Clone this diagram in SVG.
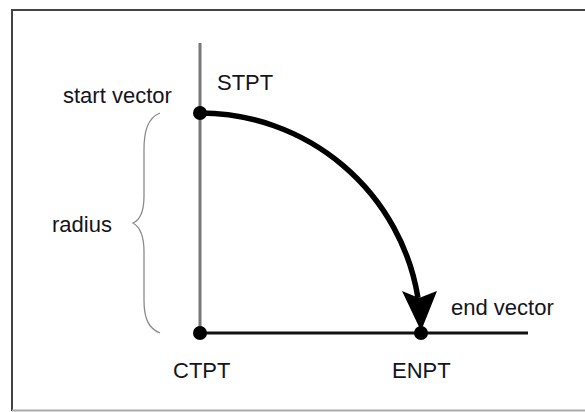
<svg xmlns="http://www.w3.org/2000/svg" width="585" height="412" viewBox="0 0 585 412">
<style>
text{font-family:"Liberation Sans",Arial,sans-serif;font-size:22px;fill:#141420}
.dot{fill:#000}
</style>
<rect width="585" height="412" fill="#fff"/>
<g id="frame">
<line x1="12" y1="10" x2="585" y2="10" stroke="#444" stroke-width="2"/>
<line x1="12" y1="9" x2="12" y2="411" stroke="#444" stroke-width="2"/>
<line x1="12" y1="410.5" x2="585" y2="410.5" stroke="#aaa" stroke-width="2"/>
</g>
<g id="connectors">
<line id="start-vector-line" x1="200" y1="43" x2="200" y2="333" stroke="#777" stroke-width="3"/>
<line id="end-vector-line" x1="200" y1="333" x2="528" y2="333" stroke="#111" stroke-width="3"/>
<path id="arc" d="M200,113 A221,220 0 0 1 418,298" fill="none" stroke="#000" stroke-width="5.5"/>
<polygon id="arrowhead" points="402,291 419,298 437,291 421,331" fill="#000"/>
<path id="brace" d="M160,113 C148,118 144,130 144,150 L144,196 C144,212 140,220 133,223 C140,227 144,235 144,252 L144,300 C144,318 148,328 160,333" fill="none" stroke="#8a8a8a" stroke-width="1.3"/>
</g>
<g id="STPT"><circle class="dot" cx="200" cy="113" r="7"/><text x="217" y="90">STPT</text></g>
<g id="start-vector"><text x="63" y="103">start vector</text></g>
<g id="radius"><text x="52" y="232">radius</text></g>
<g id="CTPT"><circle class="dot" cx="200" cy="333" r="7"/><text x="173" y="378">CTPT</text></g>
<g id="ENPT"><circle class="dot" cx="421" cy="333" r="7"/><text x="392" y="378">ENPT</text></g>
<g id="end-vector"><text x="451" y="315">end vector</text></g>
</svg>
